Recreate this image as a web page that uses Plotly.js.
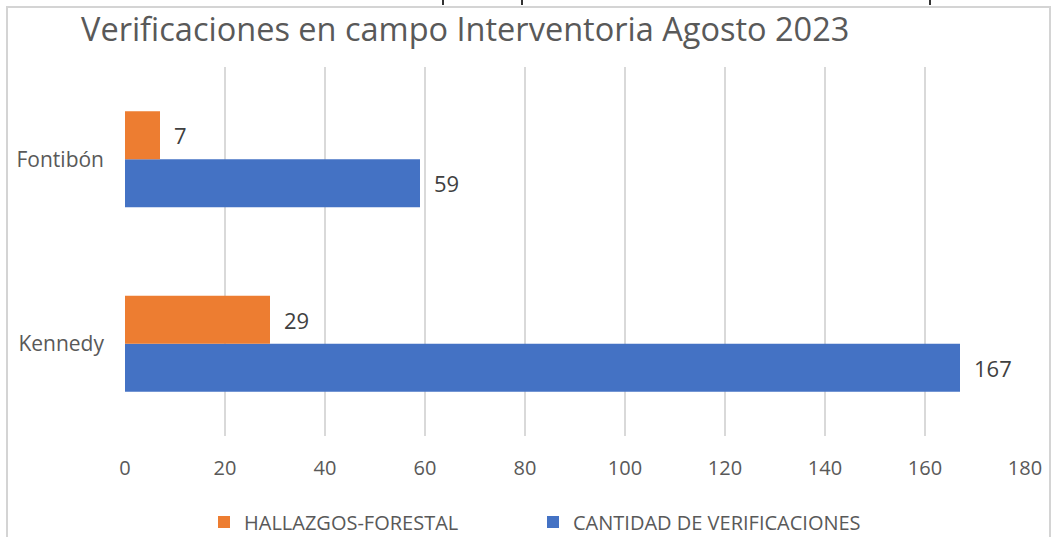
<!DOCTYPE html>
<html>
<head>
<meta charset="utf-8">
<script src="https://cdn.plot.ly/plotly-3.0.1.min.js"></script>
<style>
html,body{margin:0;padding:0;background:#fff;width:1051px;height:537px;overflow:hidden;}
#frame{position:absolute;left:6px;top:6px;width:1045px;height:540px;border:2px solid #d4d4d4;box-sizing:border-box;}
.tick{position:absolute;top:0;width:2px;height:5px;background:#333;}
#chart{position:absolute;left:0;top:0;width:1051px;height:537px;}
</style>
</head>
<body>
<div class="tick" style="left:442px"></div>
<div class="tick" style="left:521px"></div>
<div class="tick" style="left:929px"></div>
<div id="frame"></div>
<div id="chart"></div>
<script>
const categories = ['Kennedy', 'Fontibón'];
const seriesNames = ['CANTIDAD DE VERIFICACIONES', 'HALLAZGOS-FORESTAL'];
const verificaciones = [167, 59];
const hallazgos = [29, 7];
const xTicks = [0, 20, 40, 60, 80, 100, 120, 140, 160, 180];

const colors = ['#4472C4', '#ED7D31'];
const seriesValues = [verificaciones, hallazgos];

const traces = seriesValues.map((vals, i) => ({
  type: 'bar',
  orientation: 'h',
  name: seriesNames[i],
  y: categories,
  x: vals,
  marker: {color: colors[i]},
  hoverinfo: 'none'
}));

const offsets = [-0.13, 0.13];
const annotations = [];
seriesValues.forEach((vals, i) => {
  vals.forEach((v, j) => {
    annotations.push({
      x: v, y: j + offsets[i], xref: 'x', yref: 'y',
      text: String(v), showarrow: false, xanchor: 'left', xshift: 12,
      font: {family: 'Open Sans, sans-serif', size: 22, color: '#404040'}
    });
  });
});

const layout = {
  width: 1051, height: 537,
  paper_bgcolor: 'rgba(0,0,0,0)',
  plot_bgcolor: 'rgba(0,0,0,0)',
  margin: {l: 125, r: 26, t: 67, b: 101, autoexpand: false},
  title: {
    text: 'Verificaciones en campo Interventoria Agosto 2023',
    font: {family: 'Open Sans, sans-serif', size: 32.5, color: '#595959'},
    x: 81/1051, xanchor: 'left', xref: 'container',
    y: 1 - 30/537, yanchor: 'middle', yref: 'container'
  },
  barmode: 'group',
  bargap: 0.48,
  bargroupgap: 0,
  xaxis: {
    range: [0, 180],
    tickvals: xTicks,
    ticktext: xTicks.map(String),
    showgrid: true, gridcolor: '#d9d9d9', gridwidth: 2,
    zeroline: false, showline: false,
    ticks: '', ticklen: 0, ticklabelstandoff: 18,
    tickfont: {family: 'Open Sans, sans-serif', size: 20, color: '#595959'},
    fixedrange: true
  },
  yaxis: {
    type: 'category',
    range: [-0.5, 1.5],
    showgrid: false, zeroline: false, showline: false,
    ticks: '', ticklabelstandoff: 20,
    tickfont: {family: 'Open Sans, sans-serif', size: 21, color: '#595959'},
    fixedrange: true
  },
  showlegend: true,
  legend: {
    orientation: 'h', traceorder: 'reversed',
    xref: 'container', yref: 'container',
    x: 204/1051, xanchor: 'left', y: 1 - 522/537, yanchor: 'middle',
    entrywidth: 284, entrywidthmode: 'pixels',
    font: {family: 'Open Sans, sans-serif', size: 20, color: '#595959'},
    itemwidth: 30
  },
  annotations: annotations
};

Plotly.newPlot('chart', traces, layout, {displayModeBar: false, staticPlot: true});
</script>
</body>
</html>
